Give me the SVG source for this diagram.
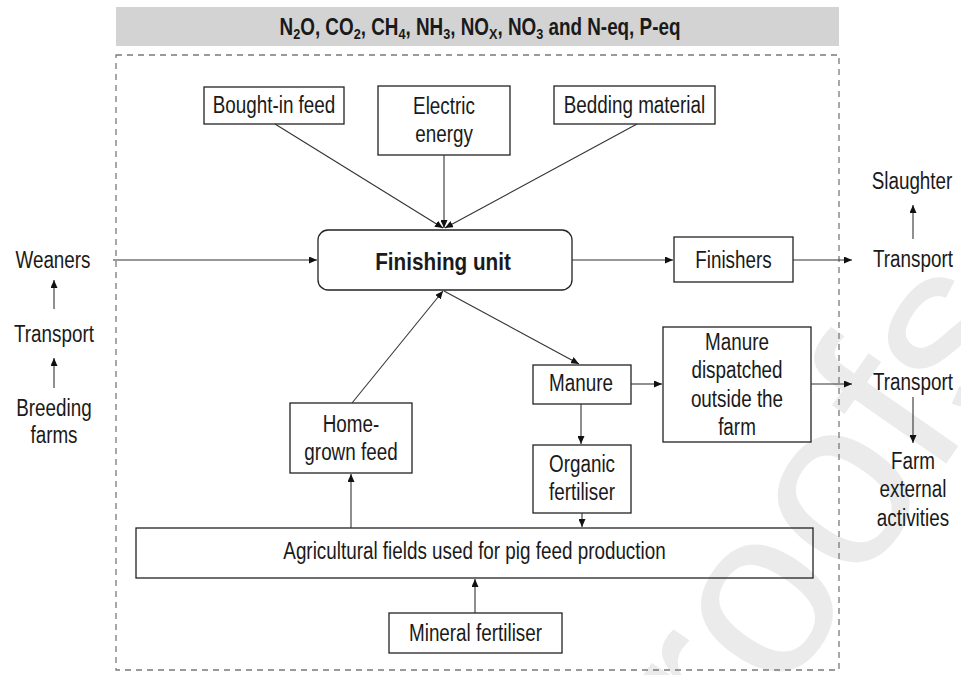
<svg xmlns="http://www.w3.org/2000/svg" width="961" height="675" viewBox="0 0 961 675">
<style>
text{font-family:"Liberation Sans",Arial,sans-serif;fill:#1a1a1a;font-size:23px;text-anchor:middle}
text.n{transform-box:fill-box;transform-origin:center;transform:scaleX(0.82)}
text.nb{transform-box:fill-box;transform-origin:center;transform:scaleX(0.9)}
.box{fill:none;stroke:#222;stroke-width:1.3}
.con path{fill:none;stroke:#333;stroke-width:1.1;marker-end:url(#ah)}
.bold{font-weight:bold}
.wm{font-size:240px;fill:#ebebeb;text-anchor:start}
</style>
<defs>
<marker id="ah" markerUnits="userSpaceOnUse" markerWidth="8" markerHeight="7" refX="8" refY="3.5" orient="auto">
<path d="M0,0 L8,3.5 L0,7 z" fill="#111"/>
</marker>
</defs>
<rect width="961" height="675" fill="#fff"/>
<text class="wm" transform="translate(735,765) rotate(-55)">roofs</text>
<g id="banner">
<rect x="116" y="7" width="723" height="39" fill="#d3d3d3"/>
<text class="n bold" x="480" y="35" font-size="22.6">N<tspan font-size="15.5" dy="4">2</tspan><tspan dy="-4">O, CO</tspan><tspan font-size="15.5" dy="4">2</tspan><tspan dy="-4">, CH</tspan><tspan font-size="15.5" dy="4">4</tspan><tspan dy="-4">, NH</tspan><tspan font-size="15.5" dy="4">3</tspan><tspan dy="-4">, NO</tspan><tspan font-size="15.5" dy="4">X</tspan><tspan dy="-4">, NO</tspan><tspan font-size="15.5" dy="4">3</tspan><tspan dy="-4"> and N-eq, P-eq</tspan></text>
</g>
<rect id="boundary" x="116" y="55" width="723" height="615" fill="none" stroke="#7a7a7a" stroke-width="1.3" stroke-dasharray="6 5"/>
<g id="bought-in-feed"><rect class="box" x="204" y="87" width="140" height="37"/><text class="n" x="274" y="113">Bought-in feed</text></g>
<g id="electric-energy"><rect class="box" x="378" y="86" width="132" height="69"/><text class="n" x="444" y="114">Electric</text><text class="n" x="444" y="142">energy</text></g>
<g id="bedding-material"><rect class="box" x="554" y="86" width="161" height="38"/><text class="n" x="634.5" y="113">Bedding material</text></g>
<g id="finishing-unit"><rect class="box" x="318" y="230" width="254" height="60" rx="10"/><text class="nb bold" x="443" y="270" font-size="27">Finishing unit</text></g>
<g id="weaners"><text class="n" x="53" y="268">Weaners</text></g>
<g id="transport-in"><text class="n" x="54" y="342">Transport</text></g>
<g id="breeding-farms"><text class="n" x="54" y="416">Breeding</text><text class="n" x="54" y="443">farms</text></g>
<g id="finishers"><rect class="box" x="674" y="237" width="119" height="45"/><text class="n" x="733.5" y="268">Finishers</text></g>
<g id="transport-out"><text class="n" x="913" y="267">Transport</text></g>
<g id="slaughter"><text class="n" x="912" y="189">Slaughter</text></g>
<g id="manure"><rect class="box" x="533" y="365" width="98" height="39"/><text class="n" x="581" y="391">Manure</text></g>
<g id="manure-dispatched"><rect class="box" x="663" y="327" width="148" height="115"/><text class="n" x="737" y="350">Manure</text><text class="n" x="737" y="378">dispatched</text><text class="n" x="737" y="407">outside the</text><text class="n" x="737" y="435">farm</text></g>
<g id="transport-manure"><text class="n" x="913" y="390">Transport</text></g>
<g id="farm-external"><text class="n" x="913" y="469">Farm</text><text class="n" x="913" y="497">external</text><text class="n" x="913" y="526">activities</text></g>
<g id="home-grown-feed"><rect class="box" x="290" y="403" width="122" height="70"/><text class="n" x="351" y="432">Home-</text><text class="n" x="351" y="460">grown feed</text></g>
<g id="organic-fertiliser"><rect class="box" x="533" y="445" width="98" height="68"/><text class="n" x="582" y="472">Organic</text><text class="n" x="582" y="500">fertiliser</text></g>
<g id="agricultural-fields"><rect class="box" x="136" y="528" width="677" height="50"/><text class="n" x="474.5" y="559">Agricultural fields used for pig feed production</text></g>
<g id="mineral-fertiliser"><rect class="box" x="389" y="613" width="173" height="40"/><text class="n" x="475.5" y="641">Mineral fertiliser</text></g>
<g id="connectors" class="con">
<path d="M275 124 L443 228"/>
<path d="M444 155 L444 228"/>
<path d="M637 124 L445 228"/>
<path d="M113 260 L317 260"/>
<path d="M572 260 L673 260"/>
<path d="M793 260 L852 260"/>
<path d="M913 239 L913 205"/>
<path d="M444 291 L579 364"/>
<path d="M631 384 L662 384"/>
<path d="M811 384 L852 384"/>
<path d="M913 397 L913 443"/>
<path d="M581 404 L581 444"/>
<path d="M582 513 L582 527"/>
<path d="M351 528 L351 474"/>
<path d="M352 403 L443 291"/>
<path d="M475 613 L475 579"/>
<path d="M54 388 L54 358"/>
<path d="M54 309 L54 280"/>
</g>
</svg>
